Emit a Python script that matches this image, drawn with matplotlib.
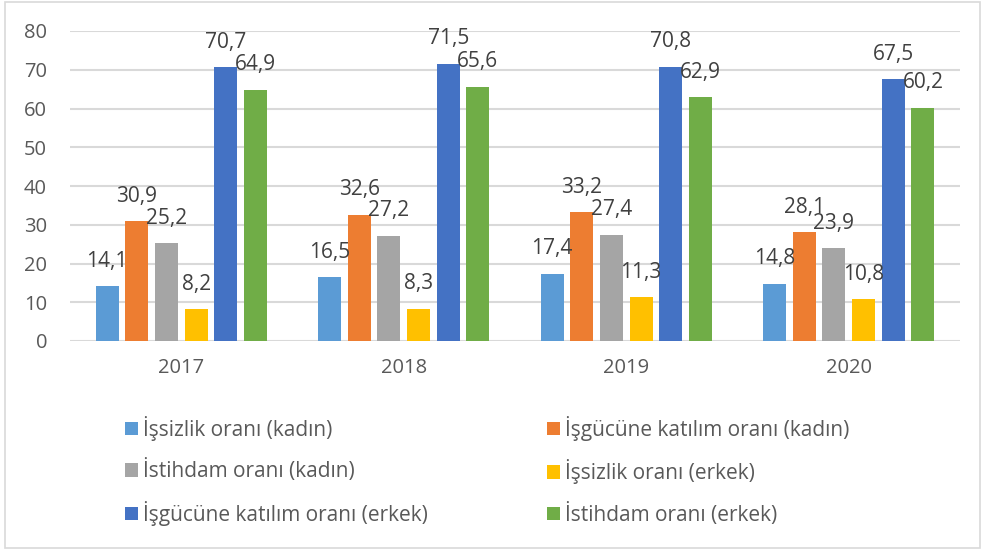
import matplotlib
matplotlib.use("Agg")
import matplotlib.pyplot as plt
import numpy as np
from matplotlib.patches import Rectangle

years = ["2017", "2018", "2019", "2020"]
series_names = [
    "İşsizlik oranı (kadın)",
    "İşgücüne katılım oranı (kadın)",
    "İstihdam oranı (kadın)",
    "İşsizlik oranı (erkek)",
    "İşgücüne katılım oranı (erkek)",
    "İstihdam oranı (erkek)",
]
issizlik_kadin = [14.1, 16.5, 17.4, 14.8]
isgucu_kadin = [30.9, 32.6, 33.2, 28.1]
istihdam_kadin = [25.2, 27.2, 27.4, 23.9]
issizlik_erkek = [8.2, 8.3, 11.3, 10.8]
isgucu_erkek = [70.7, 71.5, 70.8, 67.5]
istihdam_erkek = [64.9, 65.6, 62.9, 60.2]
series = [issizlik_kadin, isgucu_kadin, istihdam_kadin,
          issizlik_erkek, isgucu_erkek, istihdam_erkek]
colors = ["#5B9BD5", "#ED7D31", "#A5A5A5", "#FFC000", "#4472C4", "#70AD47"]

plt.rcParams['font.family'] = ['Open Sans', 'DejaVu Sans']

W, H = 985, 551
fig = plt.figure(figsize=(W / 100, H / 100), dpi=100)
ax = fig.add_axes([70 / W, 1 - 341 / H, (960 - 70) / W, (341 - 31) / H])

n = len(series)
slot = 0.8 / n
bw = slot * 0.78
x = np.arange(len(years))
bars = []
for i, (vals, c) in enumerate(zip(series, colors)):
    pos = x - 0.4 + slot * (i + 0.5)
    b = ax.bar(pos, vals, width=bw, color=c, zorder=3, label=series_names[i])
    bars.append(b)
    for xp, v in zip(pos, vals):
        ax.annotate(f"{v:.1f}".replace(".", ","), (xp, v), xytext=(0, 18),
                    textcoords="offset points", ha="center", va="center",
                    fontsize=15, color="#404040", zorder=4)

ax.set_xlim(-0.5, len(years) - 0.5)
ax.set_ylim(0, 80)
ax.set_yticks(range(0, 81, 10))
ax.set_xticks(x)
ax.set_xticklabels(years)
ax.tick_params(axis="both", length=0, labelsize=14.5, colors="#595959")
ax.tick_params(axis="y", pad=16.5)
ax.tick_params(axis="x", pad=12)
ax.yaxis.grid(True, color="#D9D9D9", linewidth=1.5, zorder=0)
for s in ax.spines.values():
    s.set_visible(False)

order = [0, 2, 4, 1, 3, 5]
handles = [bars[i] for i in order]
labels = [series_names[i] for i in order]
leg = fig.legend(handles, labels, ncol=2, loc="upper left",
                 bbox_to_anchor=(125 / W, 1 - 416 / H),
                 frameon=False, fontsize=15, labelcolor="#595959",
                 handlelength=0.62, handleheight=0.62, handletextpad=0.25,
                 labelspacing=0.88, columnspacing=5.7, borderaxespad=0,
                 borderpad=0)

fig.patches.append(Rectangle((5 / W, 1 - 548 / H), 975 / W, 546 / H,
                             transform=fig.transFigure, fill=False,
                             edgecolor="#D9D9D9", linewidth=1.2))

fig.savefig("out.png", dpi=100)
